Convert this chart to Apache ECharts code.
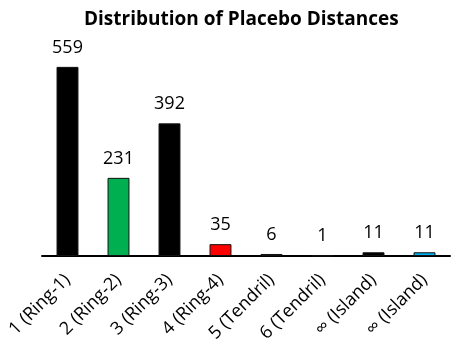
<!DOCTYPE html>
<html><head><meta charset="utf-8">
<script src="https://cdn.jsdelivr.net/npm/echarts@6/dist/echarts.min.js"></script>
<style>html,body{margin:0;padding:0;background:#fff}#c{width:463px;height:356px}</style>
</head><body><div id="c"></div>
<script>
var categories = ["1 (Ring-1)","2 (Ring-2)","3 (Ring-3)","4 (Ring-4)","5 (Tendril)","6 (Tendril)","\u221E (Island)","\u221E (Island)"];
var values = [559, 231, 392, 35, 6, 1, 11, 11];
var barColors = ["#000000","#00B050","#000000","#FF0000","#000000","#000000","#000000","#00B0F0"];
var titleText = "Distribution of Placebo Distances";
var FONT = "'Open Sans', sans-serif";
var chart = echarts.init(document.getElementById('c'));
chart.setOption({
  animation:false,
  title:{text:titleText,left:79,top:5,textStyle:{fontFamily:FONT,fontWeight:'bold',fontSize:19,color:'#000'}},
  grid:{left:42,right:13,top:53,bottom:100},
  xAxis:{type:'category',data:categories,
    axisLine:{lineStyle:{color:'#000',width:2}},axisTick:{show:false},
    axisLabel:{rotate:45,margin:21,interval:0,fontFamily:FONT,fontSize:18,color:'#000'}},
  yAxis:{type:'value',min:0,max:600,show:false,splitLine:{show:false}},
  series:[{type:'bar',barWidth:'43%',
    data:values.map(function(v,i){return {value:v,itemStyle:{color:barColors[i],borderColor:'#111',borderWidth:1}};}),
    label:{show:true,position:'top',distance:10,fontFamily:FONT,fontSize:18,color:'#000'}}]
});
</script></body></html>
